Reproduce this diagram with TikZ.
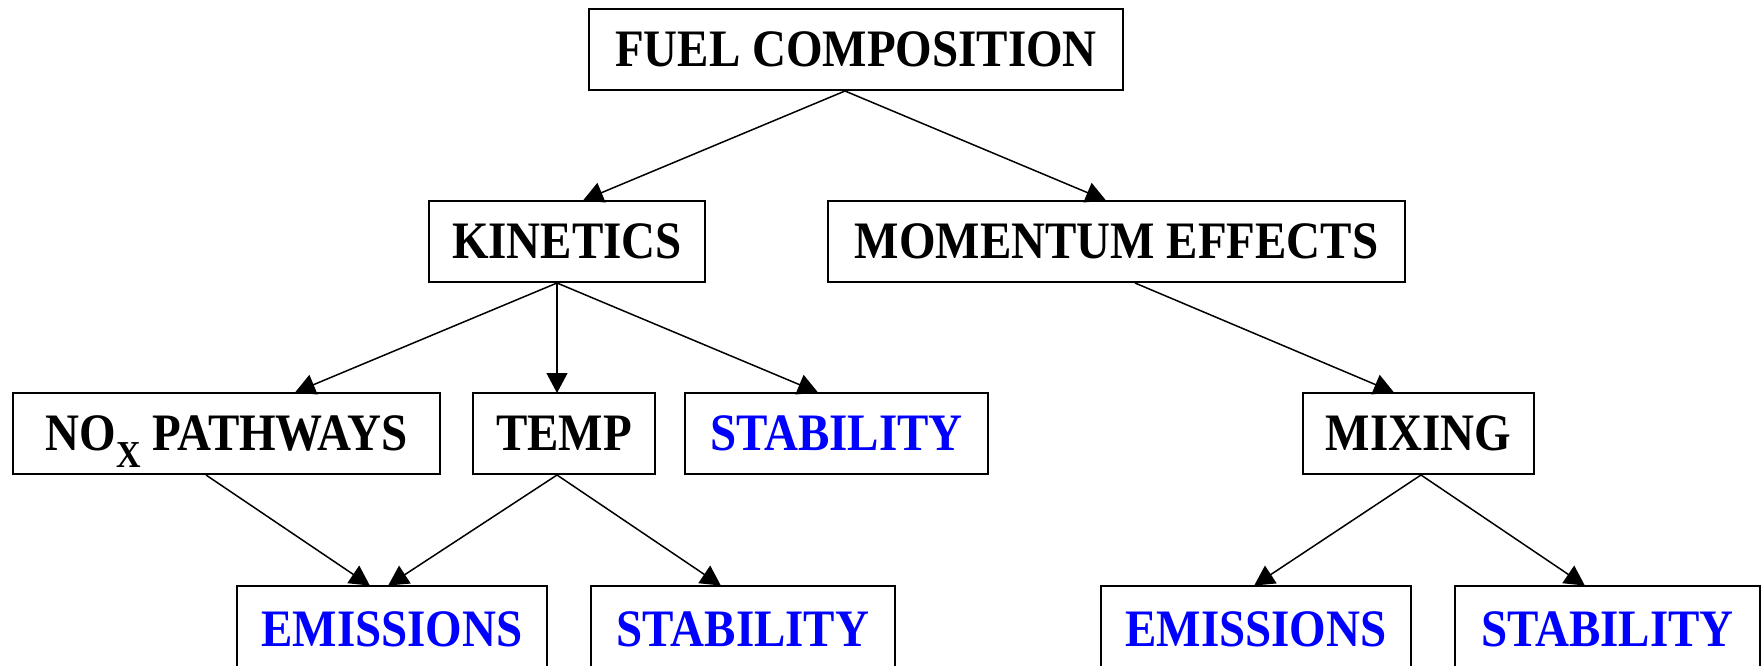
\documentclass[tikz,border=0pt]{standalone}
\usepackage{fontspec}
\setmainfont{Liberation Serif}
\usetikzlibrary{arrows.meta}
\definecolor{pureblue}{RGB}{0,0,255}
\newcommand{\tallt}[1]{\scalebox{1}[1.12]{#1}}
\begin{document}
\begin{tikzpicture}[x=1pt,y=-1pt,
  box/.style={draw,line width=2pt,rectangle,inner sep=0pt,minimum height=81pt,
    font=\fontsize{47}{53}\selectfont\bfseries},
  lowbox/.style={box,minimum height=86pt,text depth=0pt},
  bluetext/.style={text=pureblue},
  arr/.style={line width=1.5pt,shorten >=-1pt,-{Triangle[length=20pt,width=21pt]}}]
\useasboundingbox (0,0) rectangle (1762,666);
\node[box,minimum width=534pt] (fuel) at (856,49.5) {\tallt{FUEL COMPOSITION}};
\node[box,minimum width=276pt] (kin) at (567,241.5) {\tallt{KINETICS}};
\node[box,minimum width=577pt] (mom) at (1116.5,241.5) {\tallt{MOMENTUM EFFECTS}};
\node[box,minimum width=427pt,text height=34pt,text depth=0pt] (nox) at (226.5,433.5) {\tallt{NO\raisebox{-15pt}[0pt][0pt]{\fontsize{34}{34}\selectfont X} PATHWAYS}};
\node[box,minimum width=182pt] (temp) at (564,433.5) {\tallt{TEMP}};
\node[box,bluetext,minimum width=303pt] (stabA) at (836.5,433.5) {\tallt{STABILITY}};
\node[box,minimum width=231pt] (mix) at (1418.5,433.5) {\tallt{MIXING}};
\node[lowbox,bluetext,minimum width=310pt,anchor=north] (emA) at (392,585) {\tallt{EMISSIONS}};
\node[lowbox,bluetext,minimum width=304pt,anchor=north] (stabB) at (743,585) {\tallt{STABILITY}};
\node[lowbox,bluetext,minimum width=310pt,anchor=north] (emB) at (1256,585) {\tallt{EMISSIONS}};
\node[lowbox,bluetext,minimum width=305pt,anchor=north] (stabC) at (1607.5,585) {\tallt{STABILITY}};
\draw[arr] ([xshift=-11pt]fuel.south) -- ([xshift=17pt]kin.north);
\draw[arr] ([xshift=-11pt]fuel.south) -- ([xshift=-11.5pt]mom.north);
\draw[arr] ([xshift=-10pt]kin.south) -- ([xshift=69.5pt]nox.north);
\draw[arr] ([xshift=-10pt]kin.south) -- ([xshift=-7pt]temp.north);
\draw[arr] ([xshift=-10pt]kin.south) -- ([xshift=-19.5pt]stabA.north);
\draw[arr] ([xshift=18.5pt]mom.south) -- ([xshift=-25.5pt]mix.north);
\draw[arr] ([xshift=-20.5pt]nox.south) -- ([xshift=-23pt]emA.north);
\draw[arr] ([xshift=-7pt]temp.south) -- ([xshift=-3pt]emA.north);
\draw[arr] ([xshift=-7pt]temp.south) -- ([xshift=-23pt]stabB.north);
\draw[arr] ([xshift=2.5pt]mix.south) -- ([xshift=-1pt]emB.north);
\draw[arr] ([xshift=2.5pt]mix.south) -- ([xshift=-23.5pt]stabC.north);
\end{tikzpicture}
\end{document}
